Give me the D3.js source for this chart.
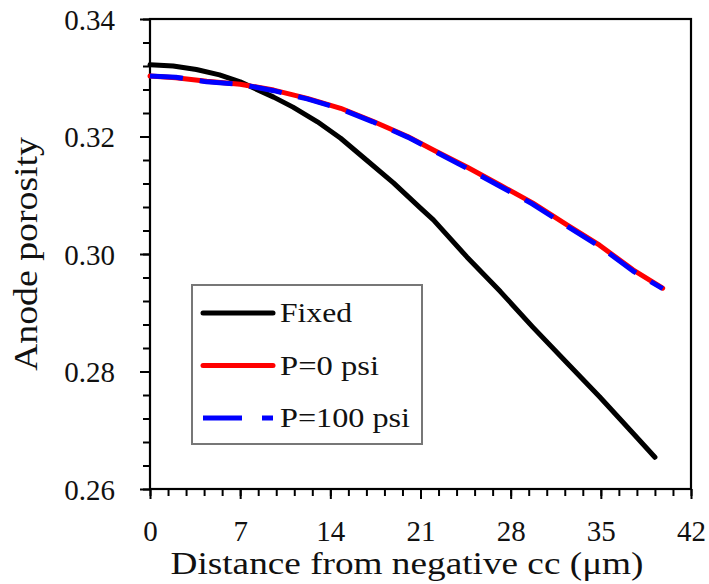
<!DOCTYPE html>
<html>
<head>
<meta charset="utf-8">
<script src="https://cdn.jsdelivr.net/npm/d3@7"></script>
<style>
  body { margin: 0; background: #fff; }
  svg text { font-family: "Liberation Serif", "DejaVu Serif", "Noto Serif", FreeSerif, "Times New Roman", Times, serif; fill: #111; }
</style>
</head>
<body>
<svg id="chart" width="709" height="584"></svg>
<script>
// values
const fixedX = [0, 1.8, 3.6, 5.4, 7.0, 7.8, 9.6, 11.1, 13.0, 14.8, 16.8, 18.9, 21.0, 22.0, 24.6, 27.2, 29.7, 32.4, 34.9, 37.5, 39.2];
const fixedY = [0.3322, 0.3320, 0.3314, 0.3305, 0.3293, 0.3285, 0.3267, 0.3250, 0.3225, 0.3197, 0.3160, 0.3121, 0.3078, 0.3058, 0.2995, 0.2936, 0.2876, 0.2814, 0.2757, 0.2695, 0.2654];

const pressX = [0, 2, 4.4, 7.0, 9.6, 12.2, 14.8, 17.3, 20.0, 22.0, 24.6, 27.2, 29.7, 32.4, 34.9, 37.5, 39.8];
const p0Y = [0.3303, 0.3300, 0.3294, 0.3289, 0.3279, 0.3265, 0.3248, 0.3226, 0.3200, 0.3177, 0.3148, 0.3117, 0.3087, 0.3049, 0.3015, 0.2973, 0.2942];
const p100Y = [0.3303, 0.3301, 0.3293, 0.3289, 0.3278, 0.3264, 0.3247, 0.3225, 0.3199, 0.3176, 0.3146, 0.3115, 0.3085, 0.3047, 0.3013, 0.2971, 0.2941];

const xTicks = [0, 7, 14, 21, 28, 35, 42];
const yTicks = [0.26, 0.28, 0.30, 0.32, 0.34];
const seriesNames = ["Fixed", "P=0 psi", "P=100 psi"];

const svg = d3.select("#chart");
const plot = { left: 150, right: 691, top: 19, bottom: 489 };
const serif = "'Liberation Serif', 'DejaVu Serif', 'Noto Serif', FreeSerif, 'Times New Roman', Times, serif";

const x = d3.scaleLinear().domain([0, 42]).range([plot.left, plot.right]);
const y = d3.scaleLinear().domain([0.26, 0.34]).range([plot.bottom, plot.top]);

// minor ticks (5 per major interval)
const xMinor = d3.range(0, 42.001, 1.4);
const yMinor = d3.range(0, 21).map(i => 0.26 + i * 0.004);

svg.append("g")
  .attr("class", "x-minor")
  .attr("transform", "translate(0," + plot.bottom + ")")
  .call(d3.axisBottom(x).tickValues(xMinor).tickSize(7).tickFormat(""));
svg.append("g")
  .attr("class", "y-minor")
  .attr("transform", "translate(" + plot.left + ",0)")
  .call(d3.axisLeft(y).tickValues(yMinor).tickSize(7).tickFormat(""));

const xAxis = svg.append("g")
  .attr("class", "x-axis")
  .attr("transform", "translate(0," + plot.bottom + ")")
  .call(d3.axisBottom(x).tickValues(xTicks).tickSize(10).tickPadding(21).tickFormat(d3.format("d")));
const yAxis = svg.append("g")
  .attr("class", "y-axis")
  .attr("transform", "translate(" + plot.left + ",0)")
  .call(d3.axisLeft(y).tickValues(yTicks).tickSize(10).tickPadding(25).tickFormat(d3.format(".2f")));

svg.selectAll(".x-minor, .y-minor, .x-axis, .y-axis").attr("font-family", serif);
svg.selectAll(".x-minor path, .y-minor path, .x-axis path, .y-axis path").remove();
svg.selectAll(".tick line").attr("stroke", "#000").attr("stroke-width", 2);
svg.selectAll(".x-axis text, .y-axis text")
  .style("font-family", serif)
  .style("font-size", "29px")
  .attr("fill", "#111");
svg.selectAll(".y-axis text").attr("dy", "0.36em");

// frame
svg.append("rect")
  .attr("x", plot.left).attr("y", plot.top)
  .attr("width", plot.right - plot.left).attr("height", plot.bottom - plot.top)
  .attr("fill", "none").attr("stroke", "#000").attr("stroke-width", 2.2);

const line = d3.line().x(d => x(d[0])).y(d => y(d[1]));

svg.append("path")
  .datum(d3.zip(fixedX, fixedY))
  .attr("d", line)
  .attr("fill", "none").attr("stroke", "#000").attr("stroke-width", 5)
  .attr("stroke-linecap", "round").attr("stroke-linejoin", "round");

svg.append("path")
  .datum(d3.zip(pressX, p0Y))
  .attr("d", line)
  .attr("fill", "none").attr("stroke", "#ff0000").attr("stroke-width", 5)
  .attr("stroke-linecap", "round").attr("stroke-linejoin", "round");

svg.append("path")
  .datum(d3.zip(pressX, p100Y))
  .attr("d", line)
  .attr("fill", "none").attr("stroke", "#0000ff").attr("stroke-width", 5)
  .attr("stroke-dasharray", "33,17")
  .attr("stroke-linejoin", "round");

// axis titles
svg.append("text")
  .attr("x", 407).attr("y", 574)
  .attr("text-anchor", "middle")
  .attr("textLength", 473).attr("lengthAdjust", "spacingAndGlyphs")
  .style("font-family", serif)
  .style("font-size", "32px")
  .text("Distance from negative cc (\u03bcm)");

svg.append("text")
  .attr("transform", "translate(37,254) rotate(-90)")
  .attr("text-anchor", "middle")
  .attr("textLength", 234).attr("lengthAdjust", "spacingAndGlyphs")
  .style("font-family", serif)
  .style("font-size", "33px")
  .text("Anode porosity");

// legend
const legend = svg.append("g").attr("class", "legend");
legend.append("rect")
  .attr("x", 192).attr("y", 285).attr("width", 230).attr("height", 159)
  .attr("fill", "#fff").attr("stroke", "#777").attr("stroke-width", 2);

const legendColors = ["#000", "#ff0000", "#0000ff"];
const legendDash = [null, null, "39,20"];
const legendWidths = [72, 99, 130];
seriesNames.forEach((name, i) => {
  const ly = 313 + i * 52.5;
  legend.append("line")
    .attr("x1", 203).attr("x2", 273).attr("y1", ly).attr("y2", ly)
    .attr("stroke", legendColors[i]).attr("stroke-width", 5)
    .attr("stroke-linecap", legendDash[i] ? "butt" : "round")
    .attr("stroke-dasharray", legendDash[i]);
  legend.append("text")
    .attr("x", 280).attr("y", ly + 9)
    .attr("textLength", legendWidths[i]).attr("lengthAdjust", "spacingAndGlyphs")
    .style("font-family", serif)
    .style("font-size", "28px")
    .text(name);
});
</script>
</body>
</html>
